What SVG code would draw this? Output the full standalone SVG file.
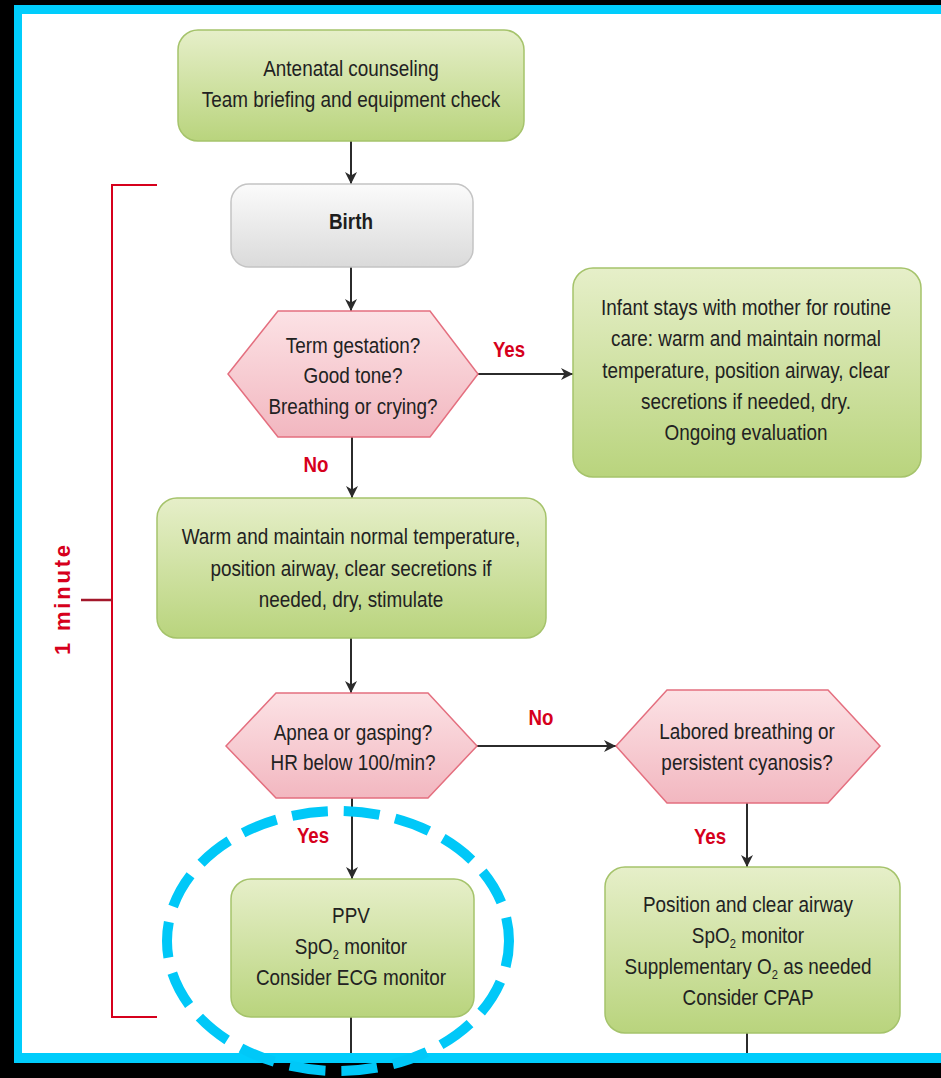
<svg xmlns="http://www.w3.org/2000/svg" width="941" height="1078" viewBox="0 0 941 1078">
<defs>
<linearGradient id="gGreen" x1="0" y1="0" x2="0" y2="1">
<stop offset="0" stop-color="#e6efc9"/>
<stop offset="1" stop-color="#b9d47d"/>
</linearGradient>
<linearGradient id="gPink" x1="0" y1="0" x2="0" y2="1">
<stop offset="0" stop-color="#fce2e5"/>
<stop offset="1" stop-color="#f2b7c0"/>
</linearGradient>
<linearGradient id="gGray" x1="0" y1="0" x2="0" y2="1">
<stop offset="0" stop-color="#fbfbfb"/>
<stop offset="1" stop-color="#dadada"/>
</linearGradient>
<marker id="arr" viewBox="0 0 12 12" refX="12" refY="6" markerWidth="13" markerHeight="12" markerUnits="userSpaceOnUse" orient="auto">
<path d="M0,0 L12,6 L0,12 L3.5,6 z" fill="#2b2b2b"/>
</marker>
<style>
.box{fill:url(#gGreen);stroke:#a5c36b;stroke-width:1.5}
.hex{fill:url(#gPink);stroke:#e46f7f;stroke-width:1.5}
.gray{fill:url(#gGray);stroke:#c4c4c4;stroke-width:1.5}
.t{font-family:"Liberation Sans",Arial,sans-serif;font-size:22px;fill:#222;text-anchor:middle}
.b{font-family:"Liberation Sans",Arial,sans-serif;font-size:22px;font-weight:bold;fill:#1e1e1e;text-anchor:middle}
.lbl{font-family:"Liberation Sans",Arial,sans-serif;font-size:22px;font-weight:bold;fill:#d6001c;text-anchor:middle}
.sub{font-size:13px}
.con{stroke:#2b2b2b;stroke-width:2;fill:none}
</style>
</defs>

<rect x="0" y="0" width="941" height="1078" fill="#000"/>
<rect x="14" y="5" width="940" height="1058" fill="#00cdfc"/>
<rect x="22" y="14" width="930" height="1039" fill="#fff"/>

<g id="bracket">
<polyline points="157,185 112,185 112,1017 157,1017" fill="none" stroke="#d6001c" stroke-width="2"/>
<line x1="81" y1="600" x2="112" y2="600" stroke="#a3182b" stroke-width="2.5"/>
<text class="lbl" transform="translate(70,600) rotate(-90)" x="0" y="0" font-size="23" textLength="110" lengthAdjust="spacing">1 minute</text>
</g>

<g id="connectors">
<line class="con" x1="351" y1="141" x2="351" y2="184" marker-end="url(#arr)"/>
<line class="con" x1="351" y1="267" x2="351" y2="311" marker-end="url(#arr)"/>
<line class="con" x1="478" y1="374" x2="573" y2="374" marker-end="url(#arr)"/>
<line class="con" x1="352" y1="437" x2="352" y2="498" marker-end="url(#arr)"/>
<line class="con" x1="351" y1="638" x2="351" y2="693" marker-end="url(#arr)"/>
<line class="con" x1="477" y1="746" x2="616" y2="746" marker-end="url(#arr)"/>
<line class="con" x1="352" y1="798" x2="352" y2="879" marker-end="url(#arr)"/>
<line class="con" x1="747" y1="803" x2="747" y2="867" marker-end="url(#arr)"/>
<line class="con" x1="351" y1="1017" x2="351" y2="1053"/>
<line class="con" x1="747" y1="1033" x2="747" y2="1053"/>
<g transform="translate(509,0) scale(0.85,1)"><text class="lbl" x="0" y="357">Yes</text></g>
<g transform="translate(316,0) scale(0.85,1)"><text class="lbl" x="0" y="472">No</text></g>
<g transform="translate(541,0) scale(0.85,1)"><text class="lbl" x="0" y="725">No</text></g>
<g transform="translate(313,0) scale(0.85,1)"><text class="lbl" x="0" y="843">Yes</text></g>
<g transform="translate(710,0) scale(0.85,1)"><text class="lbl" x="0" y="844">Yes</text></g>
</g>

<g id="antenatal">
<rect class="box" x="178" y="30" width="346" height="111" rx="20"/>
<g transform="translate(351,0) scale(0.86,1)">
<text class="t" x="0" y="76">Antenatal counseling</text>
<text class="t" x="0" y="107">Team briefing and equipment check</text>
</g>
</g>

<g id="birth">
<rect class="gray" x="231" y="184" width="242" height="83" rx="18"/>
<g transform="translate(351,0) scale(0.86,1)">
<text class="b" x="0" y="229">Birth</text>
</g>
</g>

<g id="term">
<polygon class="hex" points="228,374 278,311 430,311 478,374 430,437 278,437"/>
<g transform="translate(353,0) scale(0.86,1)">
<text class="t" x="0" y="353">Term gestation?</text>
<text class="t" x="0" y="383">Good tone?</text>
<text class="t" x="0" y="414">Breathing or crying?</text>
</g>
</g>

<g id="routine">
<rect class="box" x="573" y="268" width="348" height="209" rx="20"/>
<g transform="translate(746,0) scale(0.86,1)">
<text class="t" x="0" y="315">Infant stays with mother for routine</text>
<text class="t" x="0" y="346">care: warm and maintain normal</text>
<text class="t" x="0" y="378">temperature, position airway, clear</text>
<text class="t" x="0" y="409">secretions if needed, dry.</text>
<text class="t" x="0" y="440">Ongoing evaluation</text>
</g>
</g>

<g id="warm">
<rect class="box" x="157" y="498" width="389" height="140" rx="20"/>
<g transform="translate(351,0) scale(0.86,1)">
<text class="t" x="0" y="544">Warm and maintain normal temperature,</text>
<text class="t" x="0" y="576">position airway, clear secretions if</text>
<text class="t" x="0" y="607">needed, dry, stimulate</text>
</g>
</g>

<g id="apnea">
<polygon class="hex" points="226,746 276,693 428,693 477,746 428,798 276,798"/>
<g transform="translate(353,0) scale(0.86,1)">
<text class="t" x="0" y="740">Apnea or gasping?</text>
<text class="t" x="0" y="770">HR below 100/min?</text>
</g>
</g>

<g id="labored">
<polygon class="hex" points="616,746 667,690 828,690 880,746 828,803 667,803"/>
<g transform="translate(747,0) scale(0.86,1)">
<text class="t" x="0" y="739">Labored breathing or</text>
<text class="t" x="0" y="770">persistent cyanosis?</text>
</g>
</g>

<g id="ppv">
<rect class="box" x="231" y="879" width="243" height="138" rx="20"/>
<g transform="translate(351,0) scale(0.86,1)">
<text class="t" x="0" y="923">PPV</text>
<text class="t" x="0" y="954">SpO<tspan class="sub" dy="5">2</tspan><tspan dy="-5"> monitor</tspan></text>
<text class="t" x="0" y="985">Consider ECG monitor</text>
</g>
</g>

<g id="position">
<rect class="box" x="605" y="867" width="295" height="166" rx="20"/>
<g transform="translate(748,0) scale(0.86,1)">
<text class="t" x="0" y="912">Position and clear airway</text>
<text class="t" x="0" y="943">SpO<tspan class="sub" dy="5">2</tspan><tspan dy="-5"> monitor</tspan></text>
<text class="t" x="0" y="974">Supplementary O<tspan class="sub" dy="5">2</tspan><tspan dy="-5"> as needed</tspan></text>
<text class="t" x="0" y="1005">Consider CPAP</text>
</g>
</g>

<g id="highlight">
<ellipse cx="338" cy="941" rx="171" ry="130" fill="none" stroke="#00c8f8" stroke-width="10" stroke-dasharray="36 16" stroke-dashoffset="10"/>
</g>
</svg>
